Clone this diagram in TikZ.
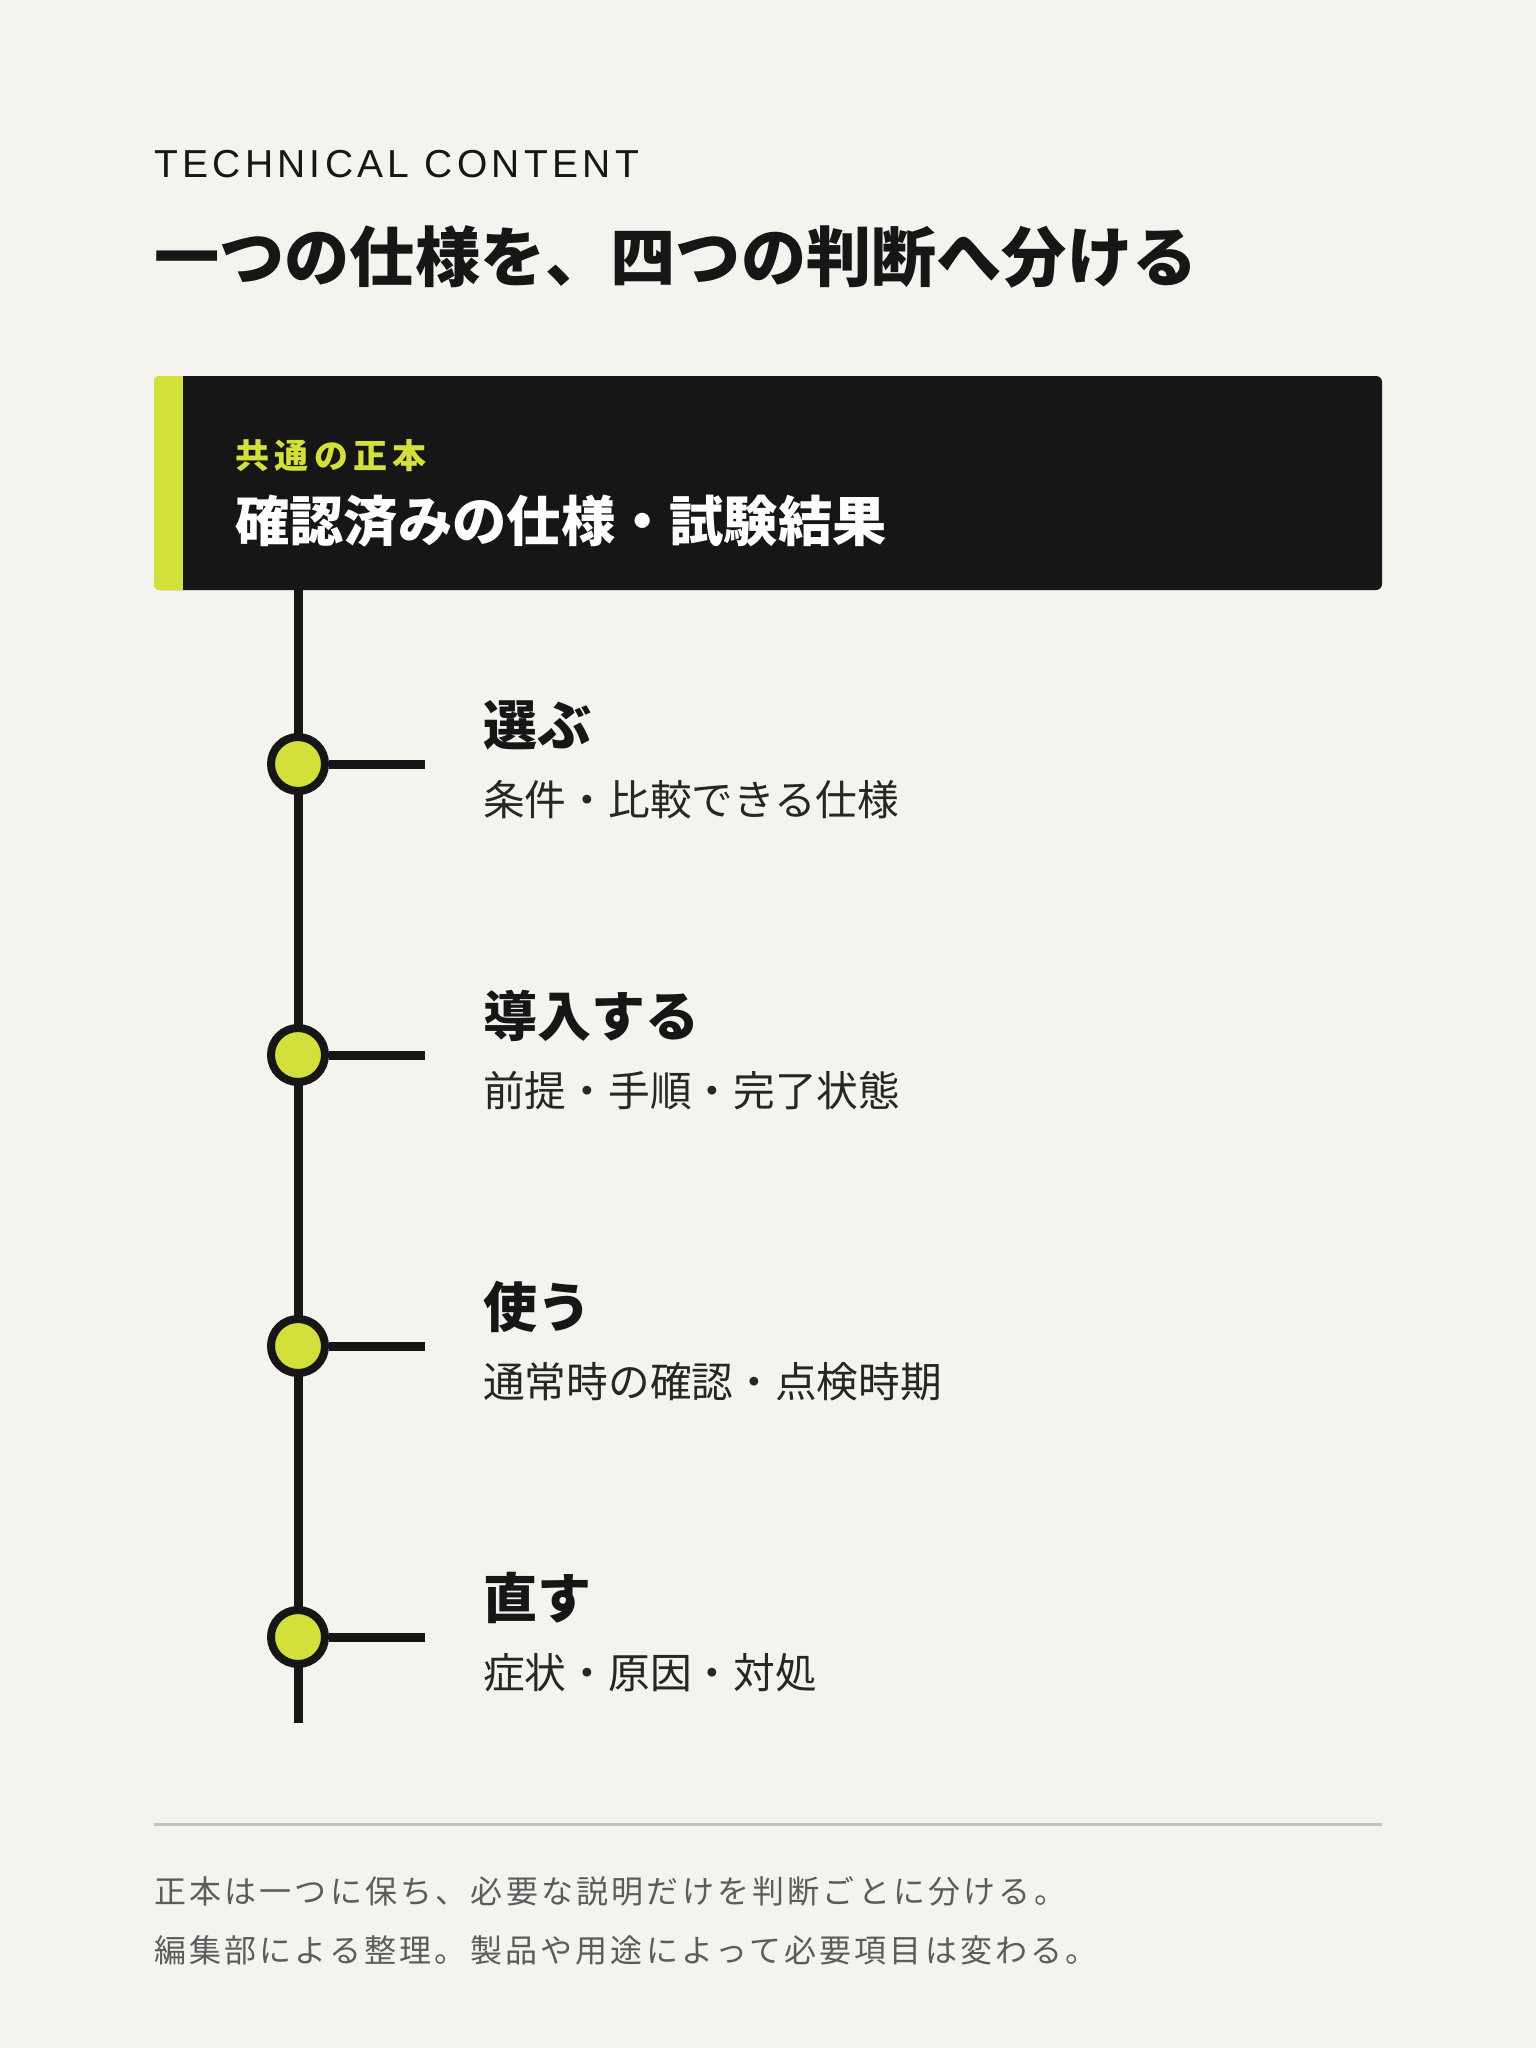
\documentclass[tikz,border=0pt]{standalone}
\usepackage{fontspec}
\usepackage{xcolor}
\usetikzlibrary{positioning}
\setmainfont{Liberation Sans}
\newfontfamily\jp{Noto Sans CJK JP}
\newfontfamily\jpwide{Noto Sans CJK JP}[LetterSpace=16]
\newfontfamily\jpnote{Noto Sans CJK JP}[LetterSpace=10]
\newfontfamily\kicker{Liberation Sans}[LetterSpace=11]
\definecolor{paper}{HTML}{F4F3EE}
\definecolor{ink}{HTML}{161616}
\definecolor{subink}{HTML}{262626}
\definecolor{accent}{HTML}{D3DF3A}
\definecolor{rulegray}{HTML}{C2C1BC}
\definecolor{notegray}{HTML}{5C5C5C}
\def\fs#1{\fontsize{#1}{#1}\selectfont}

\begin{document}
\begin{tikzpicture}[x=1pt,y=-1pt,
  txt/.style={inner sep=0pt,anchor=base west},
  dot/.style={circle,draw=ink,line width=8pt,fill=accent,minimum size=54pt,inner sep=0pt},
  spine/.style={ink,line width=9pt},
  head/.style={txt,font=\jp\bfseries\fs{54},text=ink},
  sub/.style={txt,font=\jp\fs{41.7},text=subink},
  note/.style={txt,font=\jpnote\fs{32},text=notegray}]
\fill[paper] (0,0) rectangle (1536,2048);
% heading
\node[txt,font=\kicker\fs{39},text=ink] (eyebrow) at (154,177) {TECHNICAL CONTENT};
\node[txt,font=\jp\bfseries\fs{65.2},text=ink] (title) at (154,281) {一つの仕様を、四つの判断へ分ける};
% source box
\node[fill=ink,rounded corners=6pt,minimum width=1228pt,minimum height=214pt,inner sep=0pt] (canon) at (768,483) {};
\begin{scope}
\clip[rounded corners=6pt] (canon.south west) rectangle (canon.north east);
\fill[accent] (canon.south west) rectangle ([xshift=29pt]canon.north west);
\end{scope}
\node[txt,font=\jpwide\bfseries\fs{34},text=accent] (canontag) at (235,468) {共通の正本};
\node[txt,font=\jp\bfseries\fs{54.3},text=white] (canonname) at (235,541) {確認済みの仕様・試験結果};
% timeline
\coordinate (spineend) at (298,1723);
\draw[spine] (canon.south -| spineend) -- (spineend);
\node[dot] (d1) at (298,764) {};
\node[dot] (d2) at (298,1055) {};
\node[dot] (d3) at (298,1346) {};
\node[dot] (d4) at (298,1637) {};
\coordinate (s1) at (425,764);
\coordinate (s2) at (425,1055);
\coordinate (s3) at (425,1346);
\coordinate (s4) at (425,1637);
\draw[spine] (d1) -- (s1);
\draw[spine] (d2) -- (s2);
\draw[spine] (d3) -- (s3);
\draw[spine] (d4) -- (s4);
% steps
\node[head] (h1) at (483,745) {選ぶ};
\node[sub] (t1) at (483,815) {条件・比較できる仕様};
\node[head] (h2) at (483,1036) {導入する};
\node[sub] (t2) at (483,1106) {前提・手順・完了状態};
\node[head] (h3) at (483,1327) {使う};
\node[sub] (t3) at (483,1397) {通常時の確認・点検時期};
\node[head] (h4) at (483,1618) {直す};
\node[sub] (t4) at (483,1688) {症状・原因・対処};
% footer
\coordinate (ruleL) at (154,1824);
\coordinate (ruleR) at (1382,1824);
\draw[rulegray,line width=3pt] (ruleL) -- (ruleR);
\node[note] (note1) at (154,1903) {正本は一つに保ち、必要な説明だけを判断ごとに分ける。};
\node[note] (note2) at (154,1962) {編集部による整理。製品や用途によって必要項目は変わる。};
\end{tikzpicture}
\end{document}
